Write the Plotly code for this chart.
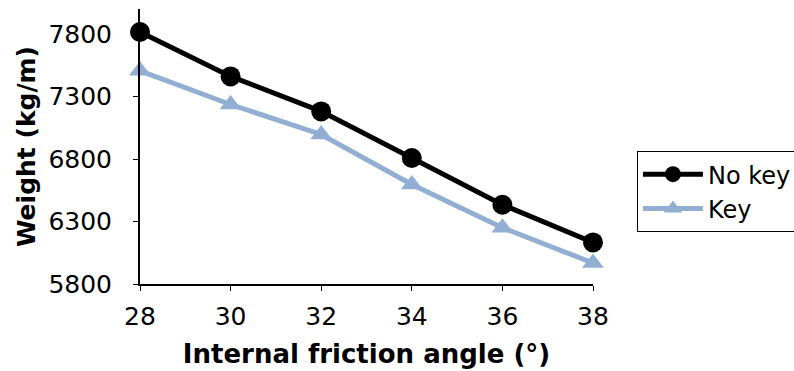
import plotly.graph_objects as go

angles = [28, 30, 32, 34, 36, 38]
no_key = [7816, 7461, 7181, 6808, 6434, 6133]
key = [7506, 7236, 6996, 6596, 6250, 5968]
x_ticks = [28, 30, 32, 34, 36, 38]
y_ticks = [5800, 6300, 6800, 7300, 7800]

fig = go.Figure()
fig.add_trace(go.Scatter(
    x=angles, y=no_key, name="No key", mode="lines+markers",
    line=dict(color="#000000", width=5),
    marker=dict(symbol="circle", size=20, color="#000000"),
    cliponaxis=False,
))
fig.add_trace(go.Scatter(
    x=angles, y=key, name="Key", mode="lines+markers",
    line=dict(color="#93AED3", width=5),
    marker=dict(symbol="triangle-up", size=19, color="#93AED3"),
    cliponaxis=False,
))

font_family = "DejaVu Sans"
fig.update_layout(
    width=794, height=371,
    margin=dict(l=140, r=201, t=9, b=87, autoexpand=False),
    paper_bgcolor="white", plot_bgcolor="white",
    font=dict(family=font_family, color="#000000", size=25),
    showlegend=True,
    legend=dict(
        x=1.097, y=0.336, xanchor="left", yanchor="middle",
        bordercolor="#000000", borderwidth=1,
        font=dict(size=24, family=font_family),
        itemwidth=60, tracegroupgap=0,
    ),
    xaxis=dict(
        range=[28, 38], tickvals=x_ticks,
        showline=True, linecolor="#000000", linewidth=2,
        ticks="outside", ticklen=5, tickcolor="#000000", tickwidth=1,
        showgrid=False, zeroline=False,
        tickfont=dict(size=25), ticklabelstandoff=4,
        title=dict(text="<b>Internal friction angle (°)</b>", font=dict(size=26), standoff=15),
    ),
    yaxis=dict(
        range=[5800, 8000], tickvals=y_ticks,
        showline=True, linecolor="#000000", linewidth=2,
        ticks="outside", ticklen=5, tickcolor="#000000", tickwidth=1,
        showgrid=False, zeroline=False,
        tickfont=dict(size=25), ticklabelstandoff=16,
        title=dict(text="<b>Weight (kg/m)</b>", font=dict(size=25), standoff=6),
    ),
)

fig.write_html("out.html")
